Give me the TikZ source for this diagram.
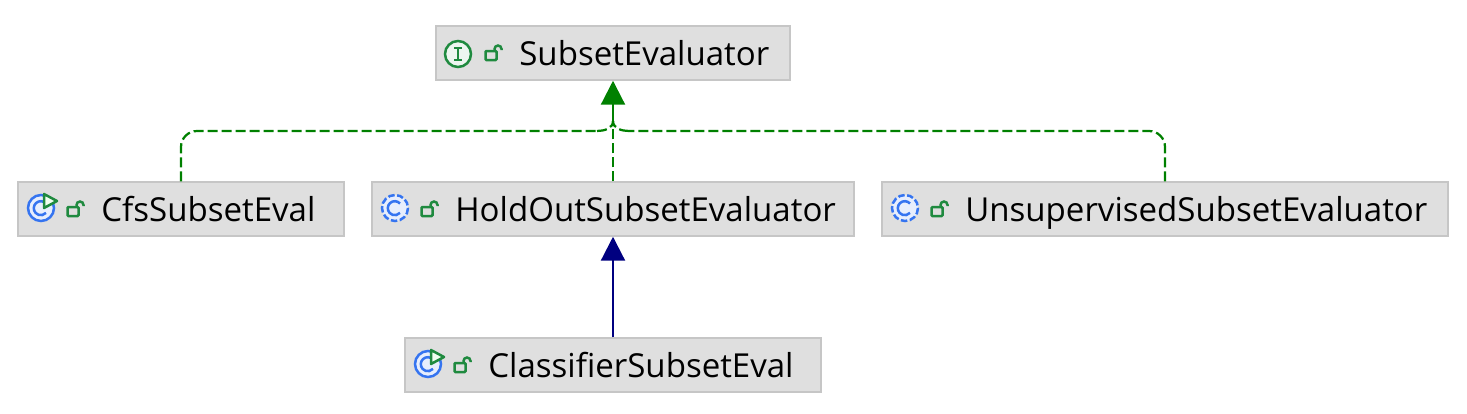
\documentclass[tikz,border=0pt]{standalone}
\usepackage{fontspec}
\setmainfont{Open Sans}
\usetikzlibrary{arrows.meta}
\definecolor{boxfill}{HTML}{DFDFDF}
\definecolor{boxline}{HTML}{C6C6C6}
\definecolor{implgreen}{HTML}{008000}
\definecolor{extblue}{HTML}{000080}
\definecolor{icongreen}{HTML}{1F8A3F}
\definecolor{iconblue}{HTML}{3574F0}
\tikzset{
	classbox/.style={draw=boxline, fill=boxfill, line width=0.03cm, minimum height=1.08cm, inner sep=0pt},
	classname/.style={anchor=base west, inner sep=0pt, text=black, font=\fontsize{18.8}{20}\selectfont},
	impl/.style={draw=implgreen, line width=0.045cm, dash pattern=on 0.2cm off 0.08cm},
	implhead/.style={draw=implgreen, line width=0.045cm, -{Triangle[length=0.48cm,width=0.48cm]}},
	exthead/.style={draw=extblue, line width=0.045cm, -{Triangle[length=0.48cm,width=0.48cm]}},
	lockicon/.pic={
		\draw[icongreen, line width=0.05cm, rounded corners=0.02cm] (-5.5,-4) rectangle (5.5,5);
		\draw[icongreen, line width=0.05cm] (3.5,-4) -- (3.5,-6) arc[start angle=180, end angle=360, radius=3.5] -- (10.5,-5);
	},
	ifaceicon/.pic={
		\draw[icongreen, fill=icongreen!8, line width=0.05cm] (0,0) circle[radius=13];
		\draw[icongreen, line width=0.05cm] (-4,-6) -- (4,-6) (-4,6) -- (4,6) (0,-6) -- (0,6);
	},
	absicon/.pic={
		\draw[iconblue, fill=iconblue!12, line width=0.05cm, dash pattern=on 0.13cm off 0.05cm] (0,0) circle[radius=13];
		\draw[iconblue, line width=0.05cm] (5,-4.5) arc[start angle=-42, end angle=-318, radius=7];
	},
	runicon/.pic={
		\draw[iconblue, fill=iconblue!12, line width=0.05cm] (0,0) circle[radius=13];
		\draw[iconblue, line width=0.05cm] (5,-4.5) arc[start angle=-42, end angle=-318, radius=7];
		\draw[icongreen, fill=green!6, line width=0.05cm, line join=round] (3,-14) -- (16,-7) -- (3,0) -- cycle;
	}
}
\begin{document}
\begin{tikzpicture}[x=0.02cm, y=-0.02cm]
	\useasboundingbox (0,0) rectangle (1467,413);

	\node[classbox, minimum width=7.08cm] (se) at (613,53) {};
	\node[classbox, minimum width=6.52cm] (cfs) at (181,209) {};
	\node[classbox, minimum width=9.64cm] (holdout) at (613,209) {};
	\node[classbox, minimum width=11.32cm] (unsup) at (1165,209) {};
	\node[classbox, minimum width=8.32cm] (clf) at (613,365) {};

	\node[classname] (sename) at (519,65) {SubsetEvaluator};
	\node[classname] (cfsname) at (101,221) {CfsSubsetEval};
	\node[classname] (holdoutname) at (455,221) {HoldOutSubsetEvaluator};
	\node[classname] (unsupname) at (965,221) {UnsupervisedSubsetEvaluator};
	\node[classname] (clfname) at (488,377) {ClassifierSubsetEval};

	\pic at (458,54) {ifaceicon};
	\pic at (491,55) {lockicon};
	\pic at (41,208) {runicon};
	\pic at (73,211) {lockicon};
	\pic at (395,208) {absicon};
	\pic at (427,211) {lockicon};
	\pic at (905,208) {absicon};
	\pic at (937,211) {lockicon};
	\pic at (428,364) {runicon};
	\pic at (460,367) {lockicon};

	\coordinate (merge) at (613,121);
	\coordinate (bendl) at (597,131);
	\coordinate (bendr) at (629,131);

	\draw[impl, rounded corners=0.32cm] (cfs.north) |- (bendl);
	\draw[impl] (bendl) to[out=0, in=-90] (merge);
	\draw[impl, rounded corners=0.32cm] (unsup.north) |- (bendr);
	\draw[impl] (bendr) to[out=180, in=-90] (merge);
	\draw[impl] (holdout.north) -- (merge);
	\draw[implhead] (merge) -- (se.south);

	\draw[exthead] (clf.north) -- (holdout.south);
\end{tikzpicture}
\end{document}
